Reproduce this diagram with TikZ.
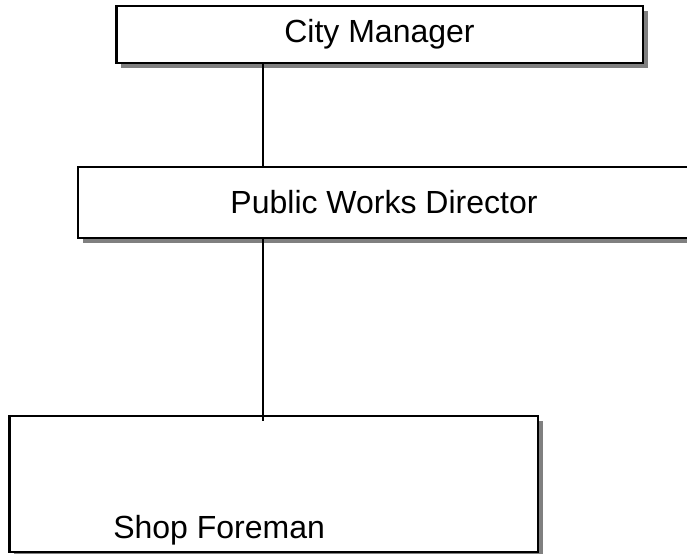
\documentclass[tikz,border=0pt]{standalone}
\usepackage{fontspec}
\setmainfont{Liberation Sans}
\usetikzlibrary{shadows}

\tikzset{
  orgbox/.style={draw,line width=2pt,fill=white,inner sep=0pt,
    drop shadow={shadow xshift=3.5pt,shadow yshift=-3.5pt,fill=gray,opacity=1}},
  orgline/.style={line width=2pt}
}

\begin{document}
\begin{tikzpicture}[x=0.75pt,y=-0.75pt,font=\fontsize{24}{28}\selectfont]
	\useasboundingbox (0,0) rectangle (687,554);
	\clip (0,0) rectangle (687,554);
	\coordinate (spine) at (263,0);
	\node[orgbox,minimum width=395pt,minimum height=42.75pt] (cm) at (379.5,34.5){City Manager};
	\node[orgbox,minimum width=459pt,minimum height=53.25pt] (pwd) at (384,202.5){Public Works Director};
	\node[orgbox,minimum width=396.4pt,minimum height=102pt] (sf) at (273.75,484){};
	\node[anchor=base west,inner sep=0pt] (sflabel) at (113,538){Shop Foreman};
	\draw[orgline] (spine |- cm.south) -- (spine |- pwd.north);
	\draw[orgline] (spine |- pwd.south) -- ([yshift=-4.5pt]spine |- sf.north);
\end{tikzpicture}
\end{document}
